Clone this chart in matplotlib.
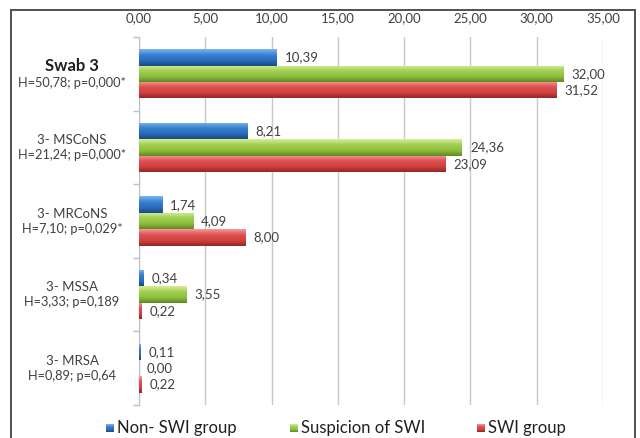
import numpy as np
import matplotlib
matplotlib.use("Agg")
import matplotlib.pyplot as plt
from matplotlib.patches import Rectangle
from matplotlib.colors import LinearSegmentedColormap

plt.rcParams['font.family'] = ['Lato', 'DejaVu Sans']

# ---- data ----
categories = ["Swab 3", "3- MSCoNS", "3- MRCoNS", "3- MSSA", "3- MRSA"]
stats = ["H=50,78; p=0,000*", "H=21,24; p=0,000*", "H=7,10; p=0,029*",
         "H=3,33; p=0,189", "H=0,89; p=0,64"]
series_names = ["Non- SWI group", "Suspicion of SWI", "SWI group"]
non_swi = [10.39, 8.21, 1.74, 0.34, 0.11]
suspicion = [32.00, 24.36, 4.09, 3.55, 0.00]
swi = [31.52, 23.09, 8.00, 0.22, 0.22]
x_ticks = [0, 5, 10, 15, 20, 25, 30, 35]

# gradient stops (top -> bottom) for each series
grad_colors = [
    ["#7fb6ee", "#3a82d2", "#2a6cbc", "#1c4a86"],
    ["#d6ee96", "#a2d052", "#8fbf3e", "#5f8a22"],
    ["#f49a98", "#e05252", "#d04242", "#962626"],
]

W, H = 640, 438
fig = plt.figure(figsize=(W / 100, H / 100), dpi=100)
fig.patch.set_facecolor("white")

ax_l, ax_r, ax_t, ax_b = 139, 603, 37, 405
ax = fig.add_axes([ax_l / W, 1 - ax_b / H, (ax_r - ax_l) / W, (ax_b - ax_t) / H])

n = len(categories)
bar_h = 0.222
series = [non_swi, suspicion, swi]
ax.set_xlim(0, 35)
ax.set_ylim(n, 0)

grad = np.linspace(0, 1, 64).reshape(-1, 1)
for s, vals in enumerate(series):
    cmap = LinearSegmentedColormap.from_list(f"g{s}", grad_colors[s])
    for i, v in enumerate(vals):
        y0 = i + 0.5 + (s - 1.5) * bar_h
        rect = Rectangle((0, y0), v, bar_h, facecolor="none", edgecolor="none")
        ax.add_patch(rect)
        if v > 0:
            im = ax.imshow(grad, cmap=cmap, aspect="auto",
                           extent=(0, v, y0 + bar_h, y0), zorder=3,
                           interpolation="bilinear")
            im.set_clip_path(rect)
        ax.annotate(f"{v:.2f}".replace(".", ","), xy=(v, y0 + bar_h / 2),
                    xytext=(8, 0), textcoords="offset pixels",
                    ha="left", va="center", fontsize=9.5, color="#404040",
                    zorder=5)

ax.set_xlim(0, 35)
ax.set_ylim(n, 0)

ax.xaxis.tick_top()
ax.set_xticks(x_ticks)
ax.set_xticklabels([f"{t:.2f}".replace(".", ",") for t in x_ticks],
                   fontsize=9.5, color="#404040")
ax.tick_params(axis="x", length=0, pad=9)
ax.set_yticks(np.arange(n + 1))
ax.set_yticklabels([])
ax.tick_params(axis="y", length=4, color="#bfbfbf", width=1)
ax.grid(axis="x", color="#c8c8c8", linewidth=1)
ax.set_axisbelow(True)
for side in ["top", "right", "bottom"]:
    ax.spines[side].set_visible(False)
ax.spines["left"].set_color("#bfbfbf")

# category labels: name over statistic line
for i, (cat, st) in enumerate(zip(categories, stats)):
    first = i == 0
    ax.annotate(cat, xy=(0, i + 0.5), xycoords=("axes fraction", "data"),
                xytext=(-67, 8 if first else 7.5), textcoords="offset pixels",
                ha="center", va="center",
                fontsize=12 if first else 9.5,
                fontweight="bold" if first else "normal",
                color="#202020" if first else "#404040")
    ax.annotate(st, xy=(0, i + 0.5), xycoords=("axes fraction", "data"),
                xytext=(-67, -9 if first else -7.5), textcoords="offset pixels",
                ha="center", va="center", fontsize=9.2, color="#404040")

# legend along the bottom edge
leg_y = 428
for s, (name, mx) in enumerate(zip(series_names, [110, 294, 481])):
    cmap = LinearSegmentedColormap.from_list(f"l{s}", grad_colors[s])
    lax = fig.add_axes([(mx - 4) / W, 1 - (leg_y + 4) / H, 8 / W, 8 / H])
    lax.imshow(grad, cmap=cmap, aspect="auto", extent=(0, 1, 1, 0))
    lax.axis("off")
    fig.text((mx + 7) / W, 1 - leg_y / H, name, ha="left", va="center",
             fontsize=12, color="#202020")

# chart frame
fig.patches.append(Rectangle((11 / W, -0.05), (635 - 11) / W, 1.05 - 10 / H,
                             transform=fig.transFigure, facecolor="none",
                             edgecolor="#505050", linewidth=1.4))

fig.savefig("out.png", dpi=100)
